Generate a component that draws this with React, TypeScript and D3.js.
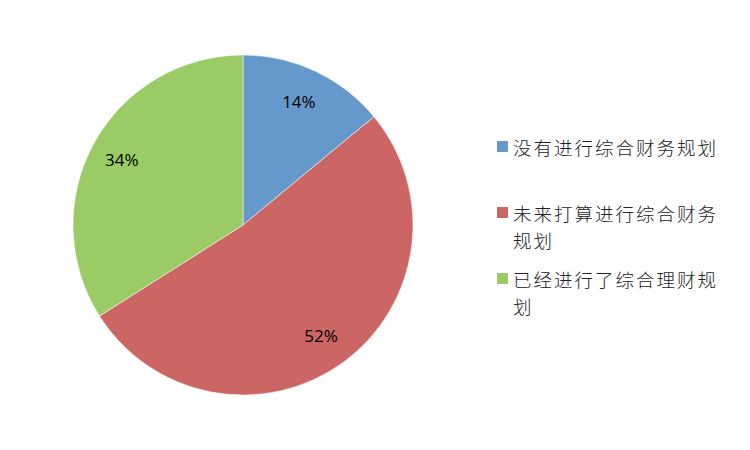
import * as d3 from "d3";

const categories = ["没有进行综合财务规划", "未来打算进行综合财务规划", "已经进行了综合理财规划"];
const values = [14, 52, 34];
const legendLines = [["没有进行综合财务规划"], ["未来打算进行综合财务", "规划"], ["已经进行了综合理财规", "划"]];
const colors = ["#6598CB", "#CB6665", "#9ACB65"];

const width = 750;
const height = 450;
const cx = 243;
const cy = 225;
const radius = 170;
const labelRadius = 136;

export default function App() {
  const pie = d3.pie<number>().sort(null).value((d) => d);
  const arcs = pie(values);
  const arc = d3.arc<d3.PieArcDatum<number>>().innerRadius(0).outerRadius(radius);
  const labelArc = d3
    .arc<d3.PieArcDatum<number>>()
    .innerRadius(labelRadius)
    .outerRadius(labelRadius);
  const total = d3.sum(values);

  const legendY = [147, 213, 279];

  return (
    <svg
      width={width}
      height={height}
      style={{ position: "absolute", left: 0, top: 0, background: "#fff" }}
    >
      <g transform={`translate(${cx},${cy})`}>
        {arcs.map((a, i) => (
          <path key={categories[i]} d={arc(a) as string} fill={colors[i]} stroke="#fff" strokeWidth={0.5} />
        ))}
        {arcs.map((a, i) => {
          const [x, y] = labelArc.centroid(a);
          return (
            <text
              key={i}
              x={x - 2}
              y={y}
              textAnchor="middle"
              dominantBaseline="central"
              fontFamily="'Open Sans', Lato, sans-serif"
              fontSize={17}
              fill="#000"
            >
              {`${Math.round((values[i] / total) * 100)}%`}
            </text>
          );
        })}
      </g>
      <g fontFamily="'Noto Sans CJK SC', sans-serif" fontSize={18.5} letterSpacing={2} fill="#222">
        {categories.map((c, i) => (
          <g key={c} transform={`translate(497,${legendY[i]})`}>
            <rect x={0} y={-6} width={11} height={11} fill={colors[i]} />
            {legendLines[i].map((line, j) => (
              <text key={j} x={16} y={j * 27} dominantBaseline="central" fontWeight={300}>
                {line}
              </text>
            ))}
          </g>
        ))}
      </g>
    </svg>
  );
}
